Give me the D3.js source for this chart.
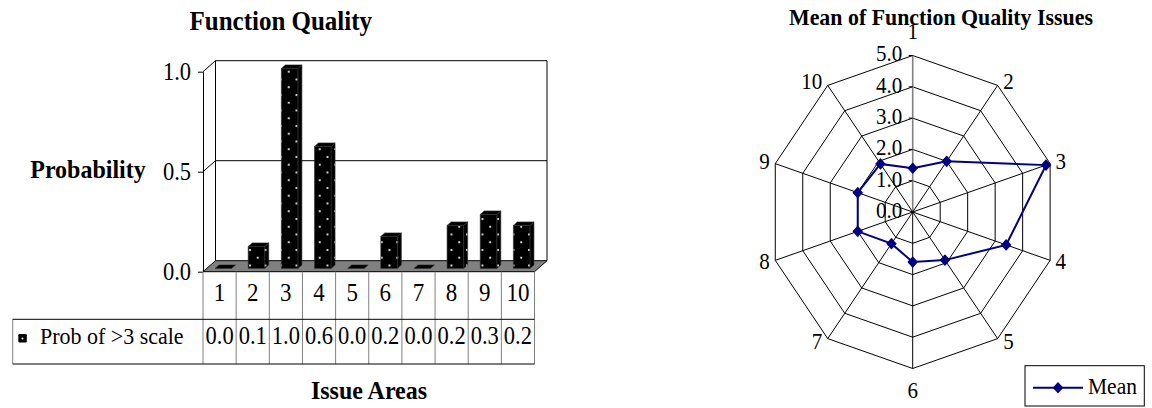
<!DOCTYPE html>
<html>
<head>
<meta charset="utf-8">
<script src="https://cdn.jsdelivr.net/npm/d3@7"></script>
<style>
  html, body { margin: 0; padding: 0; background: #fff; }
  svg { display: block; }
  text { font-family: "Liberation Serif", "Times New Roman", serif; fill: #000; }
</style>
</head>
<body>
<svg id="chart" width="1152" height="408"></svg>
<script>
// ---- data ----
const categories = ["1", "2", "3", "4", "5", "6", "7", "8", "9", "10"];
const probValues = [0.0, 0.11, 1.0, 0.61, 0.0, 0.16, 0.0, 0.215, 0.27, 0.215];
const probTicks = [0.0, 0.5, 1.0];
const seriesName = "Prob of >3 scale";

const radarAxes = ["1", "2", "3", "4", "5", "6", "7", "8", "9", "10"];
const meanValues = [1.4, 2.0, 4.85, 3.4, 1.9, 1.6, 1.25, 2.0, 2.0, 1.9];
const radarTicks = [0, 1, 2, 3, 4, 5];
const radarSeriesName = "Mean";

const svg = d3.select("#chart");
const fmt1 = d3.format(".1f");

// ---- 3D column chart ----
const left = svg.append("g");
const x = d3.scaleBand().domain(categories).range([203, 534.5]).paddingInner(0).paddingOuter(0);
const y = d3.scaleLinear().domain([0, 1]).range([271.7, 71.7]);
const depth = { dx: 12.5, dy: -11 };
const P = (xf, yf, f) => [xf + f * depth.dx, yf + f * depth.dy];
const poly = pts => "M" + pts.map(p => p.join(",")).join("L") + "Z";
const path = pts => "M" + pts.map(p => p.join(",")).join("L");

// dotted fill for the columns
const defs = svg.append("defs");
const pat = defs.append("pattern").attr("id", "dots")
  .attr("patternUnits", "userSpaceOnUse").attr("width", 15.5).attr("height", 15.5);
pat.append("rect").attr("width", 15.5).attr("height", 15.5).attr("fill", "#000");
pat.append("circle").attr("cx", 2).attr("cy", 2).attr("r", 1.1).attr("fill", "#f2f2f2");
pat.append("circle").attr("cx", 9.75).attr("cy", 9.75).attr("r", 1.1).attr("fill", "#f2f2f2");

const x0 = x.range()[0], x1 = x.range()[1];
const y0 = y(0), yTop = y(1);

// floor
left.append("path")
  .attr("d", poly([P(x0, y0, 0), P(x1, y0, 0), P(x1, y0, 1), P(x0, y0, 1)]))
  .attr("fill", "#808080").attr("stroke", "#000").attr("stroke-width", 1);

// walls
const wall = left.append("g").attr("fill", "none").attr("stroke", "#000").attr("stroke-width", 1);
wall.append("path").attr("d", path([P(x0, y0, 1), P(x0, yTop, 1), P(x1, yTop, 1), P(x1, y0, 1)]));
wall.append("path").attr("d", path([P(x0, yTop, 0), P(x0, yTop, 1)]));
// gridlines
probTicks.filter(t => t > 0 && t < 1).forEach(t => {
  wall.append("path").attr("d", path([P(x0, y(t), 0), P(x0, y(t), 1), P(x1, y(t), 1)]));
});

// columns
const f0 = 0.3, f1 = 0.62;
const bw = x.bandwidth() * 0.5;
const bars = left.append("g");
categories.forEach((c, i) => {
  const v = probValues[i];
  const bx0 = x(c) + (x.bandwidth() - bw) / 2, bx1 = bx0 + bw;
  const yv = y(v);
  const g = bars.append("g").attr("stroke", "#333").attr("stroke-width", 0.6).attr("stroke-linejoin", "round");
  if (v > 0) {
    g.append("path").attr("d", poly([P(bx1, y0, f0), P(bx1, y0, f1), P(bx1, yv, f1), P(bx1, yv, f0)])).attr("fill", "url(#dots)");
    g.append("path").attr("d", poly([P(bx0, y0, f0), P(bx1, y0, f0), P(bx1, yv, f0), P(bx0, yv, f0)])).attr("fill", "url(#dots)");
  }
  g.append("path").attr("d", poly([P(bx0, yv, f0), P(bx1, yv, f0), P(bx1, yv, f1), P(bx0, yv, f1)])).attr("fill", "#000");
});

// value axis
const yAxis = left.append("g").attr("transform", `translate(${x0},0)`)
  .call(d3.axisLeft(y).tickValues(probTicks).tickFormat(fmt1).tickSize(5).tickSizeOuter(0).tickPadding(7));
yAxis.select(".domain").attr("stroke", "#000");
yAxis.selectAll(".tick line").attr("stroke", "#000");
yAxis.selectAll(".tick text").attr("font-size", 22.5).attr("font-family", "Liberation Serif").attr("fill", "#000");

// titles
left.append("text").attr("x", 280.8).attr("y", 30).attr("text-anchor", "middle")
  .attr("font-size", 25).attr("font-weight", "bold").text("Function Quality");
left.append("text").attr("x", 88).attr("y", 178).attr("text-anchor", "middle")
  .attr("font-size", 24).attr("font-weight", "bold").text("Probability");
left.append("text").attr("x", 369).attr("y", 399).attr("text-anchor", "middle")
  .attr("font-size", 24).attr("font-weight", "bold").text("Issue Areas");

// data table
const rowTop = y0, rowMid = 319.3, rowBot = 364, legendLeft = 12.7;
const table = left.append("g");
table.selectAll("line.sep").data(categories.concat(["end"])).join("line")
  .attr("x1", (d, i) => i < categories.length ? x(d) : x1)
  .attr("x2", (d, i) => i < categories.length ? x(d) : x1)
  .attr("y1", rowTop).attr("y2", rowBot).attr("stroke", "#808080").attr("stroke-width", 1);
table.append("line").attr("x1", legendLeft).attr("x2", legendLeft).attr("y1", rowMid).attr("y2", rowBot).attr("stroke", "#808080");
table.append("line").attr("x1", legendLeft).attr("x2", x1).attr("y1", rowMid).attr("y2", rowMid).attr("stroke", "#000");
table.append("line").attr("x1", legendLeft).attr("x2", x1).attr("y1", rowBot).attr("y2", rowBot).attr("stroke", "#000");
table.selectAll("text.cat").data(categories).join("text")
  .attr("x", d => x(d) + x.bandwidth() / 2).attr("y", 301.5).attr("text-anchor", "middle")
  .attr("font-size", 23).text(d => d);
table.selectAll("text.val").data(probValues).join("text")
  .attr("x", (d, i) => x(categories[i]) + x.bandwidth() / 2).attr("y", 344).attr("text-anchor", "middle")
  .attr("font-size", 22.5).text(d => fmt1(d));
table.append("rect").attr("x", 18.3).attr("y", 334).attr("width", 8.5).attr("height", 8.5)
  .attr("fill", "#000").attr("rx", 1.2);
table.append("circle").attr("cx", 22.5).attr("cy", 338.5).attr("r", 1).attr("fill", "#f2f2f2");
table.append("text").attr("x", 40).attr("y", 344).attr("font-size", 22).text(seriesName);

// ---- radar chart ----
const right = svg.append("g");
const cx = 912.7, cy = 212, rx = 144.5, ry = 156.5;
const r = d3.scaleLinear().domain([0, 5]).range([0, 1]);
const ang = d3.scaleBand().domain(radarAxes).range([0, 2 * Math.PI]);
const pt = (a, v) => [cx + rx * r(v) * Math.sin(ang(a)), cy - ry * r(v) * Math.cos(ang(a))];

const grid = right.append("g").attr("fill", "none").attr("stroke", "#000").attr("stroke-width", 1);
radarTicks.filter(t => t > 0).forEach(t => {
  grid.append("path").attr("d", poly(radarAxes.map(a => pt(a, t))));
});
radarAxes.forEach((a, i) => {
  const e = pt(a, 5);
  grid.append("line").attr("x1", cx).attr("y1", cy).attr("x2", e[0]).attr("y2", e[1])
    .attr("stroke", i === 0 ? "#808080" : "#000").attr("stroke-width", i === 0 ? 1.6 : 1);
});
// tick marks on the value spoke
radarTicks.filter(t => t > 0).forEach(t => {
  const p = pt(radarAxes[0], t);
  grid.append("line").attr("x1", p[0] - 4).attr("x2", p[0]).attr("y1", p[1]).attr("y2", p[1]);
});

// value labels along the first spoke
right.selectAll("text.tick").data(radarTicks).join("text")
  .attr("x", cx - 10.5).attr("y", d => pt(radarAxes[0], d)[1] + 6)
  .attr("text-anchor", "end").attr("font-size", 21).text(d => fmt1(d));

// category labels
radarAxes.forEach(a => {
  const s = Math.sin(ang(a)), c = Math.cos(ang(a));
  const e = pt(a, 5);
  let tx, ty, anchor;
  if (Math.abs(s) < 0.1) {
    tx = e[0]; ty = e[1] - 23 * Math.sign(c); anchor = "middle";
  } else {
    tx = e[0] + 5.5 * Math.sign(s); ty = e[1] - 4 * c; anchor = s > 0 ? "start" : "end";
  }
  right.append("text").attr("x", tx).attr("y", ty + 7).attr("text-anchor", anchor)
    .attr("font-size", 21).text(a);
});

// series
const line = d3.line();
const seriesPts = radarAxes.map((a, i) => pt(a, meanValues[i]));
right.append("path").attr("d", line(seriesPts) + "Z")
  .attr("fill", "none").attr("stroke", "#000080").attr("stroke-width", 2);
const diamond = "M0,-5.8L5.3,0L0,5.8L-5.3,0Z";
right.selectAll("path.mk").data(seriesPts).join("path")
  .attr("transform", d => `translate(${d[0]},${d[1]})`).attr("d", diamond).attr("fill", "#000080");

// title
right.append("text").attr("x", 941).attr("y", 25).attr("text-anchor", "middle")
  .attr("font-size", 21).attr("font-weight", "bold")
  .attr("textLength", 304).attr("lengthAdjust", "spacingAndGlyphs")
  .text("Mean of Function Quality Issues");

// legend
const lg = right.append("g");
lg.append("rect").attr("x", 1025).attr("y", 365.7).attr("width", 119.3).attr("height", 40.3)
  .attr("fill", "#fff").attr("stroke", "#000").attr("stroke-width", 1);
lg.append("line").attr("x1", 1033).attr("x2", 1083).attr("y1", 387.7).attr("y2", 387.7)
  .attr("stroke", "#000080").attr("stroke-width", 2);
lg.append("path").attr("transform", "translate(1058,387.7)").attr("d", diamond).attr("fill", "#000080");
lg.append("text").attr("x", 1088).attr("y", 394).attr("font-size", 21.5).text(radarSeriesName);

// glyphs in this layout run slightly tall: stretch text vertically about its baseline
svg.selectAll("text").attr("transform", function () {
  const tx = +this.getAttribute("x") || 0, ty = +this.getAttribute("y") || 0;
  return `translate(${tx},${ty}) scale(1,1.08) translate(${-tx},${-ty})`;
});
</script>
</body>
</html>
